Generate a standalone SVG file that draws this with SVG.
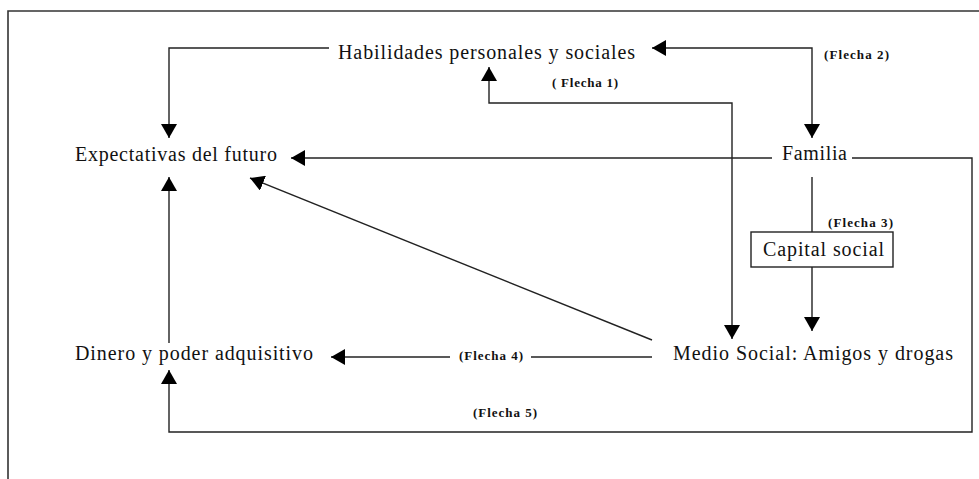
<svg xmlns="http://www.w3.org/2000/svg" width="979" height="479" viewBox="0 0 979 479">
<style>
.lbl{font-family:"Liberation Serif","Times New Roman",serif;font-size:20px;fill:#111}
.fl{font-family:"Liberation Serif","Times New Roman",serif;font-size:13px;font-weight:bold;fill:#111}
.c{fill:none;stroke:#222;stroke-width:1.4}
</style>
<defs>
<marker id="ah" markerUnits="userSpaceOnUse" markerWidth="16" markerHeight="16" refX="14" refY="8" orient="auto-start-reverse" viewBox="0 0 16 16">
<path d="M0,0 L14,8 L0,16 Z" fill="#000"/>
</marker>
</defs>
<rect width="979" height="479" fill="#fff"/>
<path d="M8,479 V11 H979" fill="none" stroke="#333" stroke-width="1.6"/>
<g id="connectors">
<path class="c" d="M329,48 H169 V138" marker-end="url(#ah)"/>
<path class="c" d="M772,158 H291" marker-end="url(#ah)"/>
<path class="c" d="M169,343 V177" marker-end="url(#ah)"/>
<path class="c" d="M652,340 L250,178" marker-end="url(#ah)"/>
<path class="c" d="M489,67 V103 H732 V339" marker-start="url(#ah)" marker-end="url(#ah)"/>
<path class="c" d="M652,48 H812 V138" marker-start="url(#ah)" marker-end="url(#ah)"/>
<path class="c" d="M812,177 V232"/>
<path class="c" d="M812,267 V331" marker-end="url(#ah)"/>
<path class="c" d="M652,357 H531"/>
<path class="c" d="M450,357 H331" marker-end="url(#ah)"/>
<path class="c" d="M852,158 H972 V432 H169 V370" marker-end="url(#ah)"/>
<text class="fl" x="824" y="59" textLength="65" lengthAdjust="spacing">(Flecha 2)</text>
<text class="fl" x="552" y="87" textLength="66" lengthAdjust="spacing">( Flecha 1)</text>
<text class="fl" x="828" y="227" textLength="65" lengthAdjust="spacing">(Flecha 3)</text>
<text class="fl" x="459" y="360" textLength="64" lengthAdjust="spacing">(Flecha 4)</text>
<text class="fl" x="473" y="417" textLength="64" lengthAdjust="spacing">(Flecha 5)</text>
</g>
<g id="habilidades"><text class="lbl" x="338" y="59" textLength="297" lengthAdjust="spacing">Habilidades personales y sociales</text></g>
<g id="expectativas"><text class="lbl" x="75" y="161" textLength="202" lengthAdjust="spacing">Expectativas del futuro</text></g>
<g id="familia"><text class="lbl" x="782" y="160" textLength="65" lengthAdjust="spacing">Familia</text></g>
<g id="capital"><rect x="751" y="232" width="142" height="35" fill="#fff" stroke="#222" stroke-width="1.4"/><text class="lbl" x="763" y="256" textLength="121" lengthAdjust="spacing">Capital social</text></g>
<g id="medio"><text class="lbl" x="673" y="360" textLength="280" lengthAdjust="spacing">Medio Social: Amigos y drogas</text></g>
<g id="dinero"><text class="lbl" x="75" y="360" textLength="238" lengthAdjust="spacing">Dinero y poder adquisitivo</text></g>
</svg>
